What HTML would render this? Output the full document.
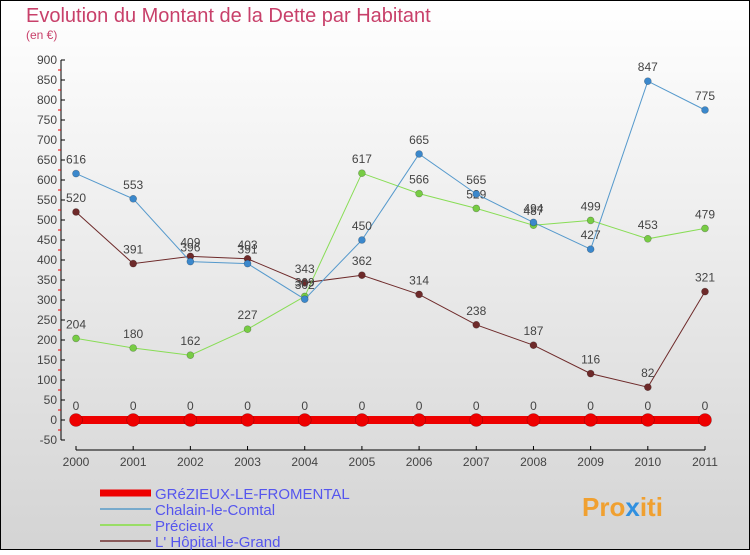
<!DOCTYPE html>
<html><head><meta charset="utf-8"><style>
html,body{margin:0;padding:0}
body{width:750px;height:550px;overflow:hidden;font-family:"Liberation Sans",sans-serif}
</style></head><body>
<svg id="c" width="750" height="550" xmlns="http://www.w3.org/2000/svg">
<defs><linearGradient id="bg" x1="0" y1="0" x2="0" y2="1"><stop offset="0" stop-color="#ffffff"/><stop offset="1" stop-color="#d4d4d4"/></linearGradient></defs>
<rect x="0.5" y="0.5" width="749" height="549" fill="url(#bg)" stroke="#000"/>
<text x="26" y="22" font-size="20" fill="#c8406a">Evolution du Montant de la Dette par Habitant</text>
<text x="26" y="39" font-size="12" fill="#c8406a">(en €)</text>
<g id="axes"></g><g id="series"></g><g id="legend"></g>
<text x="582" y="516" font-size="26" font-weight="bold" fill="#f0a030">Pro<tspan fill="#3090e0">x</tspan>iti</text>
</svg>
<script>
const years=["2000","2001","2002","2003","2004","2005","2006","2007","2008","2009","2010","2011"];
const yTicks=[-50,0,50,100,150,200,250,300,350,400,450,500,550,600,650,700,750,800,850,900];
const grezieux=[0,0,0,0,0,0,0,0,0,0,0,0];
const chalain=[616,553,396,391,302,450,665,565,494,427,847,775];
const precieux=[204,180,162,227,309,617,566,529,487,499,453,479];
const hopital=[520,391,409,403,343,362,314,238,187,116,82,321];
const NS="http://www.w3.org/2000/svg";
function X(i){return 76+i*(705-76)/11;}
function Y(v){return 420-v*0.4;}
function mk(t,a,p){const e=document.createElementNS(NS,t);for(const k in a)e.setAttribute(k,a[k]);p.appendChild(e);return e;}
const ax=document.getElementById('axes');
let e=mk('line',{x1:61,y1:Y(900),x2:61,y2:Y(-50),stroke:'#000'},ax);


yTicks.forEach(v=>{
 mk('line',{x1:61,y1:Y(v),x2:65,y2:Y(v),stroke:'#000'},ax);
 if(v<900) mk('line',{x1:58,y1:Y(v+25),x2:61,y2:Y(v+25),stroke:'#e00'},ax);
 const t=mk('text',{x:57,y:Y(v)+4,'font-size':12,'text-anchor':'end',fill:'#444'},ax);t.textContent=v;
 
 
});
e=mk('line',{x1:X(0),y1:450,x2:X(11),y2:450,stroke:'#000'},ax);


years.forEach((y,i)=>{
 mk('line',{x1:X(i),y1:446,x2:X(i),y2:450,stroke:'#000'},ax);
 const t=mk('text',{x:X(i),y:466,'font-size':12,'text-anchor':'middle',fill:'#444'},ax);t.textContent=y;
 
 
});
const sg=document.getElementById('series');
function series(d,col,dot,w,r,name){
 const g=mk('g',{},sg);
 
 
 mk('polyline',{points:d.map((v,i)=>X(i)+','+Y(v)).join(' '),fill:'none',stroke:col,'stroke-width':w},g);
 d.forEach((v,i)=>{
  const c=mk('circle',{cx:X(i),cy:Y(v),r:r,fill:dot,stroke:'rgba(0,0,0,0.3)','stroke-width':0.6},g);
  
  
  const t=mk('text',{x:X(i),y:Y(v)-10,'font-size':12,'text-anchor':'middle',fill:'#444'},g);t.textContent=v;
  
  
 });
}
series(hopital,'#6e2a2a','#6e2a2a',1,3.5,'hopital-series');
series(precieux,'#88dd55','#77cc44',1,3.5,'precieux-series');
series(chalain,'#5599cc','#3b88cc',1,3.5,'chalain-series');
series(grezieux,'#ee0000','#ee0000',8,6.5,'grezieux-series');
const lg=document.getElementById('legend');
const leg=[["GRéZIEUX-LE-FROMENTAL","#ee0000",7],["Chalain-le-Comtal","#77aacc",2],["Précieux","#99dd66",2],["L' Hôpital-le-Grand","#8a5a5a",2]];
leg.forEach((l,i)=>{
 const yy=493+i*16;
 const g=mk('g',{},lg);
 
 
 mk('line',{x1:100,y1:yy,x2:151,y2:yy,stroke:l[1],'stroke-width':l[2]},g);
 const t=mk('text',{x:155,y:yy+6,'font-size':15,fill:'#5555ee'},g);t.textContent=l[0];
});
</script>
</body></html>
